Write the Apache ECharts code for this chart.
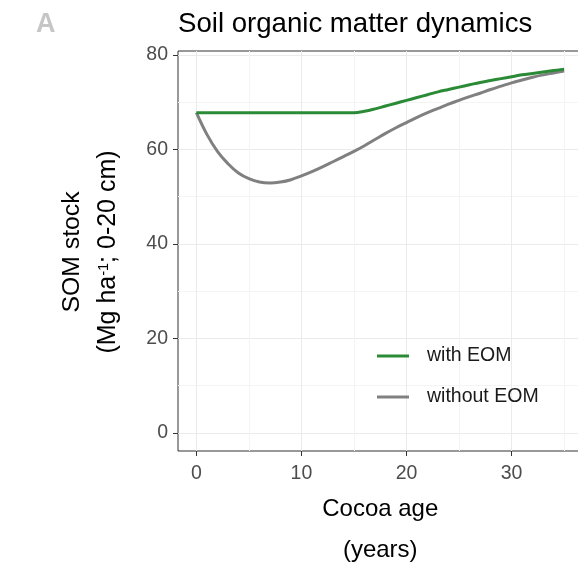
<!DOCTYPE html>
<html>
<head>
<meta charset="utf-8">
<script src="https://cdn.jsdelivr.net/npm/echarts@6/dist/echarts.min.js"></script>
<style>
html,body{margin:0;padding:0;background:#fff;}
#chart{width:578px;height:563px;}
</style>
</head>
<body>
<div id="chart"></div>
<script>
var years = [0,1,2,3,4,5,6,7,8,9,10,11,12,13,14,15,16,17,18,19,20,21,22,23,24,25,26,27,28,29,30,31,32,33,34,35];
var withEOM = [67.8,67.8,67.8,67.8,67.8,67.8,67.8,67.8,67.8,67.8,67.8,67.8,67.8,67.8,67.8,67.8,68.1,68.6,69.2,69.8,70.4,71.0,71.6,72.2,72.7,73.2,73.7,74.2,74.6,75.0,75.4,75.8,76.1,76.4,76.7,77.0];
var withoutEOM = [67.8,63.2,59.6,57.0,55.0,53.8,53.1,52.9,53.1,53.6,54.4,55.3,56.3,57.4,58.5,59.6,60.8,62.1,63.4,64.6,65.7,66.8,67.8,68.7,69.6,70.4,71.2,71.9,72.7,73.4,74.1,74.7,75.3,75.8,76.2,76.6];
var xTicks = [0,10,20,30];
var xMinor = [5,15,25,35];
var yTicks = [0,20,40,60,80];
var yMinor = [10,30,50,70];
var seriesNames = ['with EOM','without EOM'];
var seriesColors = ['#2a8a36','#808080'];

function pairs(xs, ys){ return xs.map(function(x,i){ return [x, ys[i]]; }); }

var FONT = 'Liberation Sans';
var chart = echarts.init(document.getElementById('chart'), null, {renderer:'canvas'});
var gridBox = {left:178, top:51, width:404.5, height:400};
chart.setOption({
  animation:false,
  backgroundColor:'#fff',
  textStyle:{fontFamily:FONT},
  title:{
    text:'Soil organic matter dynamics',
    left:178, top:10, padding:0,
    textStyle:{fontFamily:FONT, fontSize:27.6, fontWeight:'normal', color:'#000'}
  },
  graphic:[{
    type:'text', left:36, top:11,
    style:{text:'A', fontFamily:FONT, fontSize:27, fontWeight:'bold', fill:'#c6c6c6'}
  },{
    type:'text', x:72, y:252, rotation:Math.PI/2,
    style:{text:'SOM stock', fontFamily:FONT, fontSize:24.8, fill:'#000', align:'center', verticalAlign:'middle'}
  },{
    type:'text', x:108, y:252, rotation:Math.PI/2,
    style:{text:'{a|(Mg ha}{s|-1}{a|; 0-20 cm)}', fontFamily:FONT, fontSize:24.8, fill:'#000', align:'center', verticalAlign:'middle',
      rich:{
        a:{fontFamily:FONT, fontSize:25, fill:'#000', lineHeight:30},
        s:{fontFamily:FONT, fontSize:14.5, fill:'#000', lineHeight:14, verticalAlign:'top', padding:[3,0,0,0]}
      }}
  }],
  legend:{
    orient:'vertical', left:377, top:345, padding:0, itemGap:19,
    itemWidth:32, itemHeight:3, icon:'rect',
    data:seriesNames,
    textStyle:{fontFamily:FONT, fontSize:19.5, color:'#1a1a1a', lineHeight:22, padding:[0,0,0,13]}
  },
  grid:[Object.assign({show:true, borderColor:'#333', borderWidth:1, backgroundColor:'#fff', containLabel:false, outerBoundsMode:'none'}, gridBox)],
  xAxis:[{
    type:'value', min:-1.75, max:36.75, gridIndex:0,
    axisLine:{show:false, onZero:false},
    axisTick:{show:true, length:5, lineStyle:{color:'#333', width:1}, customValues:xTicks},
    axisLabel:{show:true, margin:13, fontFamily:FONT, fontSize:19.5, color:'#4d4d4d', customValues:xTicks},
    splitLine:{show:true, lineStyle:{color:'#ebebeb', width:1}},
    name:'Cocoa age\n(years)', nameLocation:'middle', nameGap:32,
    nameTextStyle:{fontFamily:FONT, fontSize:24, color:'#000', lineHeight:41}
  },{
    type:'value', min:-1.75, max:36.75, gridIndex:0, position:'bottom',
    axisLine:{show:false, onZero:false},
    axisTick:{show:false, customValues:xMinor},
    axisLabel:{show:false, customValues:xMinor},
    splitLine:{show:true, lineStyle:{color:'#f4f4f4', width:1}}
  }],
  yAxis:[{
    type:'value', min:-3.85, max:80.85, gridIndex:0,
    axisLine:{show:false, onZero:false},
    axisTick:{show:true, length:5, lineStyle:{color:'#333', width:1}, customValues:yTicks},
    axisLabel:{show:true, margin:10, fontFamily:FONT, fontSize:19.5, color:'#4d4d4d', customValues:yTicks}, 
    splitLine:{show:true, lineStyle:{color:'#ebebeb', width:1}}
  },{
    type:'value', min:-3.85, max:80.85, gridIndex:0, position:'left',
    axisLine:{show:false, onZero:false},
    axisTick:{show:false, customValues:yMinor},
    axisLabel:{show:false, customValues:yMinor},
    splitLine:{show:true, lineStyle:{color:'#f4f4f4', width:1}}
  }],
  series:[{
    name:seriesNames[0], type:'line', xAxisIndex:0, yAxisIndex:0,
    data:pairs(years, withEOM), showSymbol:false, smooth:0.4,
    lineStyle:{color:seriesColors[0], width:3}, itemStyle:{color:seriesColors[0]}, z:3
  },{
    name:seriesNames[1], type:'line', xAxisIndex:0, yAxisIndex:0,
    data:pairs(years, withoutEOM), showSymbol:false, smooth:0.4,
    lineStyle:{color:seriesColors[1], width:3}, itemStyle:{color:seriesColors[1]}, z:2
  }]
});
</script>
</body>
</html>
